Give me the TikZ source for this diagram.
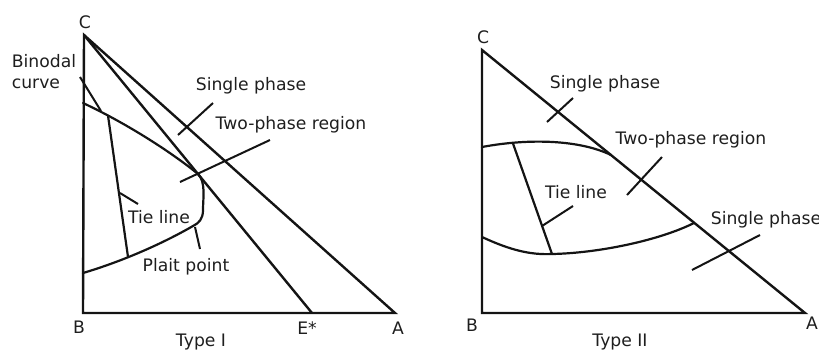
\documentclass[tikz,border=0pt]{standalone}
\usepackage{fontspec}
\setmainfont{DejaVu Sans}
\usepackage{xcolor}
\usepackage{tikz}
\usetikzlibrary{positioning}
\definecolor{phLine}{HTML}{141414}
\definecolor{phText}{HTML}{1E1E1E}

\tikzset{
  phaxis/.style={draw=phLine,line width=1.2pt,line join=miter},
  phcurve/.style={draw=phLine,line width=1.1pt,line cap=round},
  phlead/.style={draw=phLine,line width=1pt},
  phlbl/.style={text=phText,inner sep=0pt,font=\fontsize{8.6}{10.5}\selectfont},
}

\begin{document}
\begin{tikzpicture}[x=0.5pt,y=-0.5pt]
    \useasboundingbox (0,0) rectangle (819,350);
    % Type I
    \coordinate (lC) at (84,35);
    \coordinate (lB) at (83,313);
    \coordinate (lA) at (395,313);
    \coordinate (lE) at (312,313);
    \coordinate (lbin) at (83,103);
    \coordinate (lplait) at (198,174);
    \coordinate (lnose) at (193,226);
    \coordinate (lbot) at (83,273);
    \coordinate (ltieT) at (108,115.5);
    \coordinate (ltieB) at (128,257);
    \draw[phaxis] (lA) -- (lB) -- (lC) -- cycle;
    \draw[phaxis] (lC) -- (lE);
    \draw[phcurve] (lbin) .. controls (130,125) and (175,155) .. (lplait)
          .. controls (206,182) and (203,198) .. (203,210)
          .. controls (203,219) and (199,223) .. (lnose)
          .. controls (160,245) and (120,262) .. (lbot);
    \draw[phcurve] (ltieT) -- (ltieB);

    \node[phlbl] (lCl) at (85,22) {C};
    \node[phlbl] (lBl) at (79,327) {B};
    \node[phlbl] (lAl) at (398,328) {A};
    \node[phlbl] (lEl) at (307,328) {E*};
    \node[phlbl,align=left] (lbinl) at (44,72) {Binodal\\curve};
    \node[phlbl] (lsingle) at (251,86) {Single phase};
    \node[phlbl] (ltwo) at (291,125) {Two-phase region};
    \node[phlbl] (ltiel) at (159,217) {Tie line};
    \node[phlbl] (lplaitl) at (186,267) {Plait point};
    \node[phlbl] (ltype) at (201,342) {Type I};

    \coordinate (la1) at (80,77);   \coordinate (la2) at (101,111);
    \coordinate (lb1) at (213,103); \coordinate (lb2) at (178,135);
    \coordinate (lc1) at (270,140); \coordinate (lc2) at (180,182);
    \coordinate (ld1) at (120,193); \coordinate (ld2) at (138,204);
    \coordinate (le1) at (195,227); \coordinate (le2) at (200,249);
    \draw[phlead] (la1) -- (la2);
    \draw[phlead] (lb1) -- (lb2);
    \draw[phlead] (lc1) -- (lc2);
    \draw[phlead] (ld1) -- (ld2);
    \draw[phlead] (le1) -- (le2);

    % Type II
    \coordinate (rC) at (482,50);
    \coordinate (rB) at (482,313);
    \coordinate (rA) at (805,313);
    \coordinate (rup1) at (482,147);
    \coordinate (rup2) at (611,155);
    \coordinate (rlo1) at (482,237);
    \coordinate (rlo2) at (694,223);
    \coordinate (rtieT) at (513,143.5);
    \coordinate (rtieB) at (552,254);
    \draw[phaxis] (rA) -- (rB) -- (rC) -- cycle;
    \draw[phcurve] (rup1) .. controls (530,138) and (580,140) .. (rup2);
    \draw[phcurve] (rlo1) .. controls (510,250) and (530,255) .. (rtieB)
          .. controls (600,253) and (660,240) .. (rlo2);
    \draw[phcurve] (rtieT) -- (rtieB);

    \node[phlbl] (rCl) at (483,37) {C};
    \node[phlbl] (rBl) at (472,325) {B};
    \node[phlbl] (rAl) at (812,323) {A};
    \node[phlbl] (rsingle) at (605,84) {Single phase};
    \node[phlbl] (rtwo) at (691,140) {Two-phase region};
    \node[phlbl] (rtiel) at (576,192) {Tie line};
    \node[phlbl] (rsingle2) at (766,220) {Single phase};
    \node[phlbl] (rtype) at (620,342) {Type II};

    \coordinate (ra1) at (547,122); \coordinate (ra2) at (573,98);
    \coordinate (rb1) at (627,195); \coordinate (rb2) at (662,157);
    \coordinate (rc1) at (542,226); \coordinate (rc2) at (573,206);
    \coordinate (rd1) at (692,270); \coordinate (rd2) at (760,235);
    \draw[phlead] (ra1) -- (ra2);
    \draw[phlead] (rb1) -- (rb2);
    \draw[phlead] (rc1) -- (rc2);
    \draw[phlead] (rd1) -- (rd2);
  \end{tikzpicture}
\end{document}
